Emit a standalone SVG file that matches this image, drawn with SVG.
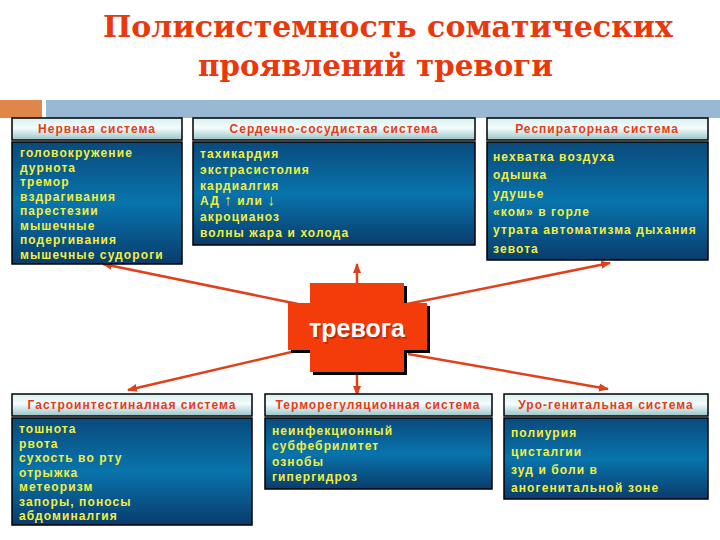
<svg xmlns="http://www.w3.org/2000/svg" width="720" height="540" viewBox="0 0 720 540">
<defs>
<linearGradient id="hdr" x1="0" y1="0" x2="0" y2="1">
<stop offset="0" stop-color="#d8f0f0"/>
<stop offset="0.45" stop-color="#f4fcfc"/>
<stop offset="1" stop-color="#98c4c8"/>
</linearGradient>
<linearGradient id="body" x1="0" y1="0" x2="0" y2="1">
<stop offset="0" stop-color="#0a4a7c"/>
<stop offset="0.5" stop-color="#0874ac"/>
<stop offset="1" stop-color="#0a3c6c"/>
</linearGradient>
<marker id="ah" markerUnits="userSpaceOnUse" markerWidth="10" markerHeight="10" viewBox="0 0 10 10" refX="9" refY="5" orient="auto">
<path d="M0,1 L10,5 L0,9 z" fill="#e0401a"/>
</marker>
<style>
.hb{fill:url(#hdr);stroke:#000;stroke-width:1.5}
.bb{fill:url(#body);stroke:#000;stroke-width:1.5}
.ht{font-family:"Liberation Sans",Arial,sans-serif;font-weight:bold;font-size:12px;fill:#e43c18;text-anchor:middle;letter-spacing:1px}
.bt{font-family:"Liberation Sans",Arial,sans-serif;font-weight:bold;font-size:12px;fill:#f0f040;letter-spacing:1.1px}
.ttl{font-family:"DejaVu Serif","Liberation Serif",serif;font-weight:bold;font-size:29px;fill:#e8380c}
.cn{stroke:#e0401a;stroke-width:2.5;fill:none}
</style>
</defs>
<rect width="720" height="540" fill="#ffffff"/>
<g id="title">
<text class="ttl" x="103" y="37" textLength="570" lengthAdjust="spacingAndGlyphs">Полисистемность соматических</text>
<text class="ttl" x="198" y="76" textLength="355" lengthAdjust="spacingAndGlyphs">проявлений тревоги</text>
</g>
<g id="bar">
<rect x="0" y="100" width="42" height="18" fill="#e0864a"/>
<rect x="46" y="100" width="674" height="18" fill="#98b8d4"/>
</g>
<g id="connectors">
<line class="cn" x1="357" y1="283" x2="357" y2="264" marker-end="url(#ah)"/>
<line class="cn" x1="357" y1="372" x2="357" y2="395" marker-end="url(#ah)"/>
<line class="cn" x1="298" y1="304" x2="103" y2="264" marker-end="url(#ah)"/>
<line class="cn" x1="300" y1="350" x2="128" y2="390" marker-end="url(#ah)"/>
<line class="cn" x1="407" y1="304" x2="610" y2="263" marker-end="url(#ah)"/>
<line class="cn" x1="408" y1="354" x2="608" y2="389" marker-end="url(#ah)"/>
</g>
<g id="center">
<path d="M313,286 H407 V306 H430 V353 H407 V375 H313 V353 H291 V306 H313 Z" fill="#000"/>
<path d="M310,283 H404 V303 H427 V350 H404 V372 H310 V350 H288 V303 H310 Z" fill="#f43c0a"/>
<text x="358.5" y="338.5" font-family="Liberation Sans,Arial,sans-serif" font-weight="bold" font-size="25" fill="#a02000" text-anchor="middle" opacity="0.6">тревога</text>
<text x="357" y="337" font-family="Liberation Sans,Arial,sans-serif" font-weight="bold" font-size="25" fill="#ffffff" text-anchor="middle">тревога</text>
</g>
<g id="nervous">
<rect class="hb" x="12" y="118" width="170" height="22"/>
<text class="ht" x="97" y="133">Нервная система</text>
<rect class="bb" x="12" y="142" width="170" height="122"/>
<text class="bt" x="20" y="157">головокружение</text>
<text class="bt" x="20" y="171.5">дурнота</text>
<text class="bt" x="20" y="186">тремор</text>
<text class="bt" x="20" y="200.5">вздрагивания</text>
<text class="bt" x="20" y="215">парестезии</text>
<text class="bt" x="20" y="229.5">мышечные</text>
<text class="bt" x="20" y="244">подергивания</text>
<text class="bt" x="20" y="258.5">мышечные судороги</text>
</g>
<g id="cardio">
<rect class="hb" x="193" y="118" width="282" height="22"/>
<text class="ht" x="334" y="133">Сердечно-сосудистая система</text>
<rect class="bb" x="193" y="142" width="282" height="103"/>
<text class="bt" x="200" y="158">тахикардия</text>
<text class="bt" x="200" y="174">экстрасистолия</text>
<text class="bt" x="200" y="189.5">кардиалгия</text>
<text class="bt" x="200" y="205">АД <tspan font-size="15">↑</tspan> или <tspan font-size="15">↓</tspan></text>
<text class="bt" x="200" y="221">акроцианоз</text>
<text class="bt" x="200" y="237">волны жара и холода</text>
</g>
<g id="resp">
<rect class="hb" x="487" y="118" width="221" height="22"/>
<text class="ht" x="597" y="133">Респираторная система</text>
<rect class="bb" x="487" y="142" width="221" height="118"/>
<text class="bt" x="493" y="161">нехватка воздуха</text>
<text class="bt" x="493" y="179">одышка</text>
<text class="bt" x="493" y="197.5">удушье</text>
<text class="bt" x="493" y="216">«ком» в горле</text>
<text class="bt" x="493" y="234" letter-spacing="0.6">утрата автоматизма дыхания</text>
<text class="bt" x="493" y="252.5">зевота</text>
</g>
<g id="gastro">
<rect class="hb" x="12" y="394" width="240" height="22"/>
<text class="ht" x="132" y="409">Гастроинтестиналная система</text>
<rect class="bb" x="12" y="418" width="240" height="107"/>
<text class="bt" x="19" y="433">тошнота</text>
<text class="bt" x="19" y="447.5">рвота</text>
<text class="bt" x="19" y="462">сухость во рту</text>
<text class="bt" x="19" y="476.5">отрыжка</text>
<text class="bt" x="19" y="491">метеоризм</text>
<text class="bt" x="19" y="505.5">запоры, поносы</text>
<text class="bt" x="19" y="520">абдоминалгия</text>
</g>
<g id="thermo">
<rect class="hb" x="265" y="394" width="227" height="22"/>
<text class="ht" x="378" y="409">Терморегуляционная система</text>
<rect class="bb" x="265" y="418" width="227" height="71"/>
<text class="bt" x="272" y="435">неинфекционный</text>
<text class="bt" x="272" y="450">субфебрилитет</text>
<text class="bt" x="272" y="465.5">ознобы</text>
<text class="bt" x="272" y="481">гипергидроз</text>
</g>
<g id="uro">
<rect class="hb" x="504" y="394" width="204" height="22"/>
<text class="ht" x="606" y="409">Уро-генитальная система</text>
<rect class="bb" x="504" y="418" width="204" height="81"/>
<text class="bt" x="511" y="437">полиурия</text>
<text class="bt" x="511" y="455.5">цисталгии</text>
<text class="bt" x="511" y="473.5">зуд и боли в</text>
<text class="bt" x="511" y="492">аногенитальной зоне</text>
</g>
</svg>
